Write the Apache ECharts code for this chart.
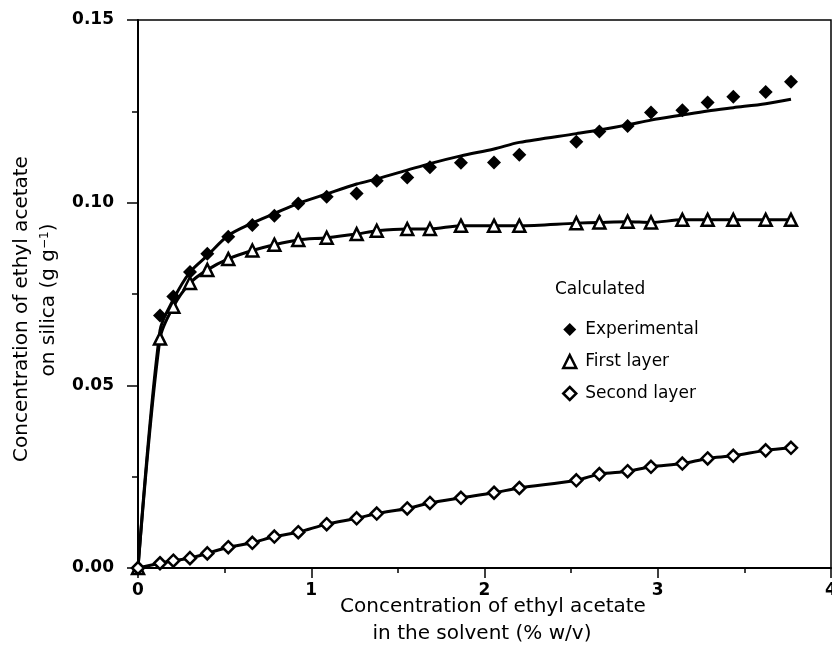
<!DOCTYPE html>
<html>
<head>
<meta charset="utf-8">
<script src="https://cdn.jsdelivr.net/npm/echarts@6/dist/echarts.min.js"></script>
<style>
    html, body { margin: 0; padding: 0; background: #fff; }
    #chart { width: 832px; height: 662px; }
</style>
</head>
<body>
<div id="chart"></div>
<script>
// concentration in the solvent (% w/v)
var conc = [0, 0.127, 0.204, 0.30, 0.40, 0.521, 0.66, 0.787, 0.925, 1.089, 1.262, 1.378, 1.554,
    1.685, 1.864, 2.055, 2.201, 2.53, 2.663, 2.826, 2.961, 3.142, 3.288, 3.436, 3.623, 3.769];
// experimental points (filled diamonds)
var experimental = [0, 0.0691, 0.0743, 0.0810, 0.0860, 0.0907, 0.0939, 0.0964, 0.0998, 0.1016,
    0.1025, 0.1060, 0.1069, 0.1097, 0.1109, 0.1110, 0.1131, 0.1167, 0.1195, 0.1210, 0.1247,
    0.1253, 0.1274, 0.1290, 0.1303, 0.1331];
// calculated total (solid line)
var calculated = [0, 0.0650, 0.0735, 0.0810, 0.0855, 0.0910, 0.0944, 0.0970, 0.0998, 0.1024,
    0.1051, 0.1065, 0.1089, 0.1107, 0.1128, 0.1147, 0.1165, 0.1189, 0.1199, 0.1213, 0.1226,
    0.1240, 0.1251, 0.1260, 0.1271, 0.1283];
// first layer (open triangles)
var firstLayer = [0, 0.0628, 0.0715, 0.0780, 0.0816, 0.0846, 0.0869, 0.0885, 0.0898, 0.0904,
    0.0914, 0.0923, 0.0928, 0.0928, 0.0937, 0.0937, 0.0937, 0.0944, 0.0946, 0.0948, 0.0946,
    0.0953, 0.0953, 0.0953, 0.0953, 0.0953];
// second layer (open diamonds)
var secondLayer = [0, 0.0013, 0.0020, 0.0027, 0.0040, 0.0057, 0.0069, 0.0086, 0.0098, 0.0120,
    0.0136, 0.0149, 0.0163, 0.0178, 0.0192, 0.0206, 0.0219, 0.0240, 0.0257, 0.0265, 0.0277,
    0.0286, 0.0300, 0.0307, 0.0322, 0.0329];
var legendNames = ['Experimental', 'First layer', 'Second layer'];

function pairs(ys) {
    var out = [];
    for (var i = 0; i < conc.length; i++) {
        out.push([conc[i], ys[i]]);
    }
    return out;
}

var font = "'DejaVu Sans', sans-serif";
var myChart = echarts.init(document.getElementById('chart'));
var option = {
    backgroundColor: '#fff',
    animation: false,
    grid: {
        left: 138, right: 1, top: 20, bottom: 94,
        outerBoundsMode: 'none', containLabel: false,
        show: true, borderColor: '#000', borderWidth: 1.5
    },
    xAxis: {
        type: 'value', min: 0, max: 4, interval: 1,
        axisLine: { lineStyle: { color: '#000', width: 2 } },
        axisTick: { inside: false, length: 10, lineStyle: { color: '#000', width: 1.5 } },
        minorTick: { show: true, splitNumber: 2, length: 5, lineStyle: { color: '#000', width: 1.5 } },
        splitLine: { show: false },
        axisLabel: { color: '#000', fontFamily: font, fontSize: 17, fontWeight: 'bold', margin: 14 }
    },
    yAxis: {
        type: 'value', min: 0, max: 0.15, interval: 0.05,
        axisLine: { lineStyle: { color: '#000', width: 2 } },
        axisTick: { inside: false, length: 11, lineStyle: { color: '#000', width: 1.5 } },
        minorTick: { show: true, splitNumber: 2, length: 6, lineStyle: { color: '#000', width: 1.5 } },
        splitLine: { show: false },
        axisLabel: {
            color: '#000', fontFamily: font, fontSize: 17, fontWeight: 'bold', margin: 24,
            formatter: function (v) { return v.toFixed(2); }
        }
    },
    legend: {
        orient: 'vertical', left: 557, top: 316, itemGap: 15,
        itemWidth: 13, itemHeight: 13,
        textStyle: { color: '#000', fontFamily: font, fontSize: 17, padding: [0, 0, 0, 4] },
        data: [
            { name: legendNames[0], icon: 'diamond', itemStyle: { color: '#000', borderWidth: 0, opacity: 1 } },
            { name: legendNames[1], icon: 'triangle', itemStyle: { color: '#fff', borderColor: '#000', borderWidth: 2.5 } },
            { name: legendNames[2], icon: 'diamond', itemStyle: { color: '#fff', borderColor: '#000', borderWidth: 2.5 } }
        ]
    },
    graphic: [
        {
            type: 'text', x: 555, y: 290,
            style: { text: 'Calculated', font: "17px " + font, fill: '#000', align: 'left', verticalAlign: 'middle' }
        },
        {
            type: 'text', x: 493, y: 607,
            style: { text: 'Concentration of ethyl acetate', font: "20px " + font, fill: '#000', align: 'center', verticalAlign: 'middle' }
        },
        {
            type: 'text', x: 482, y: 634,
            style: { text: 'in the solvent (% w/v)', font: "20px " + font, fill: '#000', align: 'center', verticalAlign: 'middle' }
        },
        {
            type: 'text', x: 22, y: 309, rotation: Math.PI / 2,
            style: { text: 'Concentration of ethyl acetate', font: "20px " + font, fill: '#000', align: 'center', verticalAlign: 'middle' }
        },
        {
            type: 'text', x: 49, y: 300, rotation: Math.PI / 2,
            style: {
                text: 'on silica (g g{sup|−1})', font: "20px " + font, fill: '#000', align: 'center', verticalAlign: 'middle',
                rich: { sup: { fontSize: 12, fontFamily: font, verticalAlign: 'top', fill: '#000' } }
            }
        }
    ],
    series: [
        {
            name: 'Calculated', type: 'line', data: pairs(calculated), smooth: 0.3,
            showSymbol: false, symbol: 'none', z: 2,
            lineStyle: { color: '#000', width: 3 }
        },
        {
            name: legendNames[0], type: 'scatter', data: pairs(experimental), z: 3,
            symbol: 'diamond', symbolSize: 14,
            itemStyle: { color: '#000', opacity: 1 }
        },
        {
            name: legendNames[1], type: 'line', data: pairs(firstLayer), smooth: 0.3, z: 4,
            symbol: 'triangle', symbolSize: 12, showAllSymbol: true,
            lineStyle: { color: '#000', width: 3 },
            itemStyle: { color: '#fff', borderColor: '#000', borderWidth: 2.5 }
        },
        {
            name: legendNames[2], type: 'line', data: pairs(secondLayer), smooth: 0.3, z: 4,
            symbol: 'diamond', symbolSize: 12, showAllSymbol: true,
            lineStyle: { color: '#000', width: 3 },
            itemStyle: { color: '#fff', borderColor: '#000', borderWidth: 2.5 }
        }
    ]
};
myChart.setOption(option);
</script>
</body>
</html>
